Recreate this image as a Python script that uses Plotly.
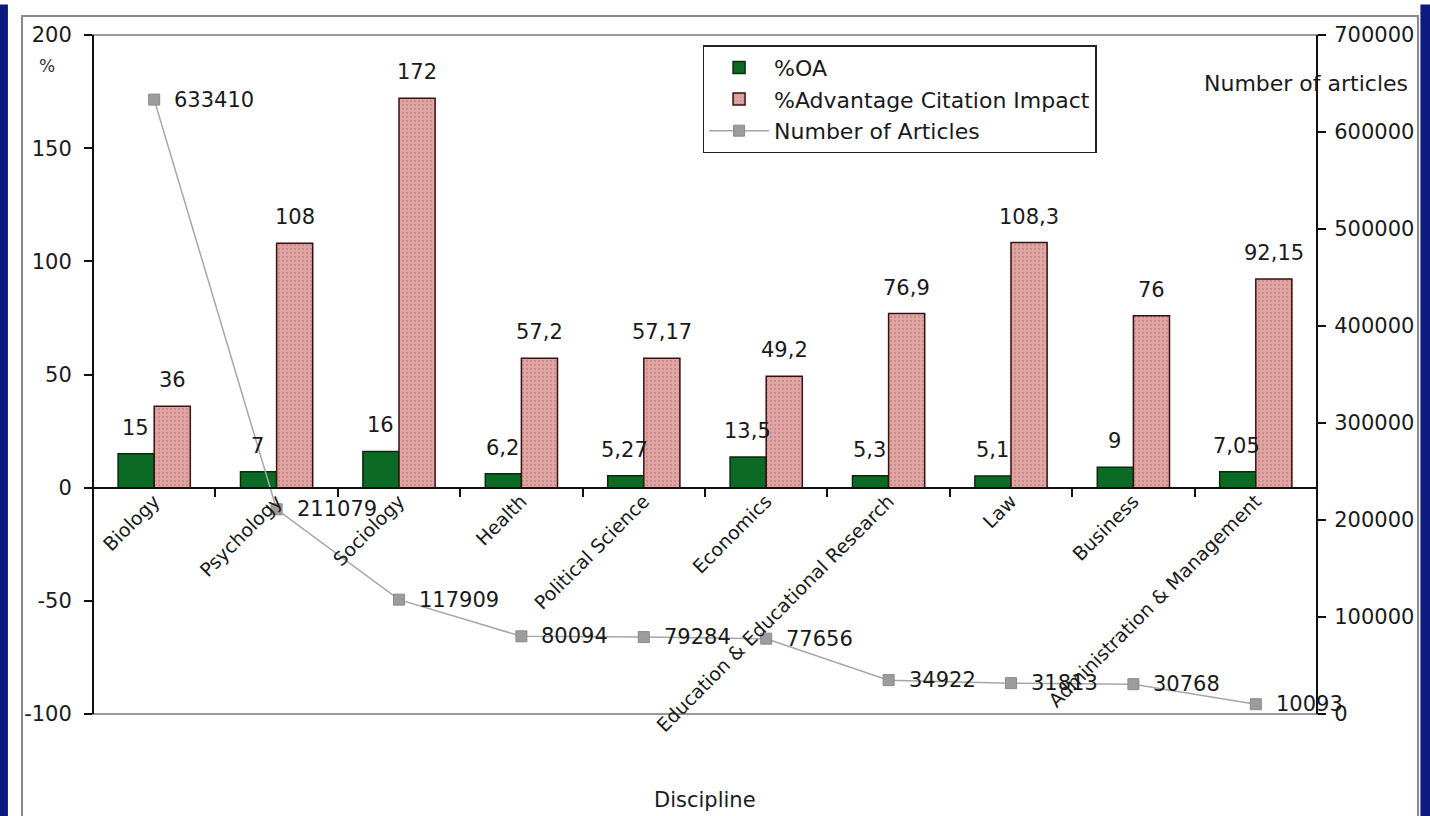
import plotly.graph_objects as go

disciplines = ["Biology", "Psychology", "Sociology", "Health", "Political Science",
               "Economics", "Education & Educational Research", "Law", "Business",
               "Administration & Management"]
pct_oa = [15, 7, 16, 6.2, 5.27, 13.5, 5.3, 5.1, 9, 7.05]
pct_advantage = [36, 108, 172, 57.2, 57.17, 49.2, 76.9, 108.3, 76, 92.15]
num_articles = [633410, 211079, 117909, 80094, 79284, 77656, 34922, 31813, 30768, 10093]

left_ticks = [-100, -50, 0, 50, 100, 150, 200]
right_ticks = [0, 100000, 200000, 300000, 400000, 500000, 600000, 700000]

Y1 = [-100, 200]
Y2 = [0, 700000]

FONT = "DejaVu Sans, Verdana, sans-serif"
TXT = "#1a1a1a"


def fmt(v):
    s = str(v)
    if s.endswith(".0"):
        s = s[:-2]
    return s.replace(".", ",")


fig = go.Figure()

fig.add_trace(go.Bar(
    x=disciplines, y=pct_oa, name="%OA",
    marker=dict(color="#0b6b24", line=dict(color="#0a2a0a", width=1.5)),
    yaxis="y", xaxis="x",
))
fig.add_trace(go.Bar(
    x=disciplines, y=pct_advantage, name="%Advantage Citation Impact",
    marker=dict(color="#d99a98", line=dict(color="#3a1010", width=1.5),
                pattern=dict(shape=".", fgcolor="#b86c6c", bgcolor="#dfa6a4",
                             size=4, solidity=0.25)),
    yaxis="y", xaxis="x",
))
fig.add_trace(go.Scatter(
    x=disciplines, y=num_articles, name="Number of Articles",
    mode="lines+markers",
    line=dict(color="#a6a6a6", width=1.5),
    marker=dict(symbol="square", size=11, color="#9c9c9c",
                line=dict(color="#8a8a8a", width=1)),
    yaxis="y2", xaxis="x",
))

annotations = []
for d, v in zip(disciplines, pct_oa):
    annotations.append(dict(x=d, y=v, xref="x", yref="y", text=fmt(v),
                            showarrow=False, xanchor="center", yanchor="bottom",
                            xshift=-19, yshift=12, font=dict(size=21, color=TXT, family=FONT)))
for d, v in zip(disciplines, pct_advantage):
    annotations.append(dict(x=d, y=v, xref="x", yref="y", text=fmt(v),
                            showarrow=False, xanchor="center", yanchor="bottom",
                            xshift=18, yshift=12, font=dict(size=21, color=TXT, family=FONT)))
for d, v in zip(disciplines, num_articles):
    annotations.append(dict(x=d, y=v, xref="x", yref="y2", text=str(v),
                            showarrow=False, xanchor="left", yanchor="middle",
                            xshift=18, font=dict(size=21, color=TXT, family=FONT)))

annotations += [
    dict(x=-0.0376, y=0.954, xref="paper", yref="paper", text="%", showarrow=False,
         xanchor="center", yanchor="middle",
         font=dict(size=17, color="#333333", family=FONT)),
    dict(x=0.991, y=0.929, xref="paper", yref="paper", text="Number of articles",
         showarrow=False, xanchor="center", yanchor="middle",
         font=dict(size=22, color=TXT, family=FONT)),
    dict(x=0.5, y=-0.127, xref="paper", yref="paper", text="Discipline",
         showarrow=False, xanchor="center", yanchor="middle",
         font=dict(size=21, color=TXT, family=FONT)),
]

zero_pos = (0 - Y1[0]) / (Y1[1] - Y1[0])

shapes = [
    dict(type="rect", xref="paper", yref="paper", x0=0, x1=1, y0=0, y1=1,
         line=dict(color="#9a9a9a", width=2), layer="below"),
    dict(type="rect", xref="paper", yref="paper", x0=-0.058, x1=1.0825,
         y0=-0.2, y1=1.028, line=dict(color="#8a8a8a", width=2), layer="below"),
    dict(type="rect", xref="paper", yref="paper", x0=-0.076, x1=-0.0695,
         y0=-0.2, y1=1.045, fillcolor="#0c1a80", line=dict(width=0)),
    dict(type="rect", xref="paper", yref="paper", x0=1.0845, x1=1.1, y0=-0.2,
         y1=1.045, fillcolor="#0c1a80", line=dict(width=0)),
]

fig.update_layout(
    width=1430, height=816,
    margin=dict(l=93, r=113, t=35, b=102),
    paper_bgcolor="white", plot_bgcolor="white",
    font=dict(family=FONT, size=21, color=TXT),
    barmode="group", bargap=0.41, bargroupgap=0,
    showlegend=True,
    legend=dict(x=0.498, y=0.985, xanchor="left", yanchor="top",
                bordercolor="#222222", borderwidth=1.5, bgcolor="white",
                font=dict(size=22, color=TXT, family=FONT),
                tracegroupgap=0, itemwidth=60),
    xaxis=dict(type="category", range=[-0.5, len(disciplines) - 0.5],
               anchor="free", position=zero_pos,
               showline=True, linecolor="#111111", linewidth=2,
               ticks="outside", ticklen=8, tickwidth=2, tickcolor="#111111",
               tickson="boundaries", tickangle=-45, ticklabelstandoff=-6,
               tickfont=dict(size=19, color=TXT, family=FONT),
               showgrid=False, zeroline=False),
    yaxis=dict(range=Y1, tickvals=left_ticks, ticktext=[str(t) for t in left_ticks],
               anchor="free", position=0,
               showline=True, linecolor="#111111", linewidth=2,
               ticks="outside", ticklen=8, tickwidth=2, tickcolor="#111111",
               ticklabelstandoff=8,
               tickfont=dict(size=21, color=TXT, family=FONT),
               showgrid=False, zeroline=False),
    yaxis2=dict(range=Y2, tickvals=right_ticks, ticktext=[str(t) for t in right_ticks],
                overlaying="y", side="right", anchor="free", position=1,
                showline=True, linecolor="#111111", linewidth=2,
                ticks="outside", ticklen=8, tickwidth=2, tickcolor="#111111",
                ticklabelstandoff=4,
                tickfont=dict(size=21, color=TXT, family=FONT),
                showgrid=False, zeroline=False),
    annotations=annotations,
    shapes=shapes,
)

fig.write_html("out.html")
